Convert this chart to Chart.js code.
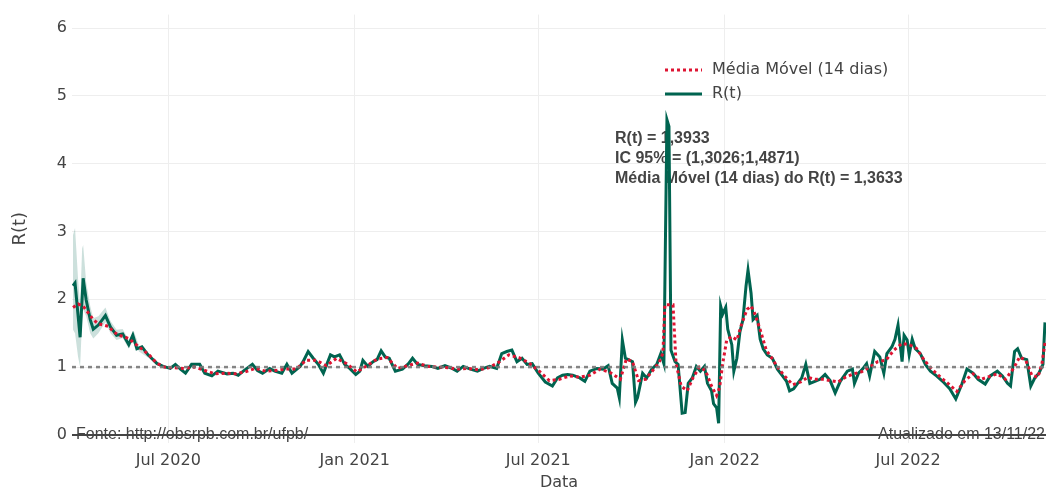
<!DOCTYPE html>
<html>
<head>
<meta charset="utf-8">
<script src="https://cdn.jsdelivr.net/npm/chart.js@4"></script>
<style>
  html, body { margin: 0; padding: 0; background: #fff; }
  #wrap { width: 1046px; height: 494px; }
</style>
</head>
<body>
<div id="wrap"><canvas id="rtChart" width="1046" height="494"></canvas></div>
<script>
// Série do R(t) - dias contados a partir do início da série
const startDate = '2020-03-29';

const rtDays = [0, 2, 7, 10, 13, 17, 20, 25, 32, 37, 43, 49, 55, 59, 63, 68, 74, 83, 89, 96, 101, 106, 111, 117, 125, 130,
  137, 143, 152, 158, 163, 168, 177, 182, 187, 194, 199, 206, 211, 216, 224, 227, 232, 237, 242, 247, 254, 258, 263, 268,
  273, 279, 283, 286, 291, 296, 300, 304, 308, 312, 318, 325, 331, 335, 340, 347, 354, 360, 367, 374, 379, 385, 392, 399,
  405, 411, 418, 423, 428, 433, 438, 443, 448, 453, 459, 466, 473, 478, 483, 488, 493, 500, 505, 510, 517, 523, 528, 532,
  537, 539, 542, 545, 548, 552, 555, 557, 562, 566, 571, 576, 580, 583, 586, 588, 590, 594, 597, 601, 604, 607, 611, 615,
  619, 623, 626, 630, 632, 635, 637, 639, 641, 644, 646, 650, 652, 655, 658, 661, 664, 666, 669, 671, 675, 678, 681, 685,
  690, 695, 700, 704, 707, 711, 715, 719, 723, 727, 732, 737, 742, 747, 752, 757, 764, 769, 771, 775, 779, 783, 786, 791,
  796, 800, 803, 808, 811, 814, 818, 820, 823, 825, 828, 831, 836, 841, 846, 852, 858, 865, 871, 877, 882, 888, 893, 900,
  905, 912, 917, 922, 925, 929, 932, 936, 941, 945, 949, 953, 957, 959];
const rtValues = [2.20, 2.24, 1.44, 2.31, 1.99, 1.70, 1.56, 1.62, 1.76, 1.59, 1.47, 1.49, 1.33, 1.47, 1.27, 1.30, 1.18, 1.05,
  1.01, 0.98, 1.04, 0.97, 0.91, 1.04, 1.04, 0.91, 0.87, 0.94, 0.90, 0.91, 0.88, 0.94, 1.04, 0.95, 0.91, 0.98, 0.94, 0.91,
  1.04, 0.91, 1.01, 1.08, 1.23, 1.13, 1.04, 0.91, 1.18, 1.15, 1.18, 1.04, 0.98, 0.89, 0.94, 1.10, 1.01, 1.08, 1.11, 1.24,
  1.15, 1.13, 0.94, 0.97, 1.05, 1.13, 1.04, 1.02, 1.01, 0.98, 1.02, 0.98, 0.94, 1.01, 0.97, 0.94, 0.98, 1.01, 0.98, 1.20,
  1.23, 1.25, 1.08, 1.13, 1.04, 1.05, 0.91, 0.78, 0.72, 0.84, 0.88, 0.89, 0.88, 0.84, 0.79, 0.94, 0.98, 0.97, 1.02, 0.76,
  0.69, 0.55, 1.40, 1.13, 1.11, 1.08, 0.48, 0.55, 0.91, 0.84, 0.97, 1.04, 1.20, 1.05, 4.65, 4.55, 1.25, 1.08, 1.04, 0.32,
  0.33, 0.76, 0.84, 1.01, 0.94, 1.01, 0.76, 0.65, 0.46, 0.40, 0.17, 1.90, 1.78, 1.88, 1.56, 1.33, 0.94, 1.13, 1.52, 1.70,
  2.19, 2.43, 2.09, 1.70, 1.76, 1.41, 1.27, 1.18, 1.13, 0.97, 0.87, 0.79, 0.65, 0.68, 0.76, 0.84, 1.04, 0.76, 0.79, 0.82,
  0.89, 0.80, 0.62, 0.79, 0.94, 0.97, 0.76, 0.91, 0.97, 1.05, 0.87, 1.23, 1.15, 0.91, 1.20, 1.30, 1.41, 1.62, 1.08, 1.47,
  1.40, 1.18, 1.41, 1.27, 1.20, 1.04, 0.94, 0.87, 0.79, 0.68, 0.53, 0.75, 0.97, 0.91, 0.82, 0.75, 0.87, 0.94, 0.87, 0.76,
  0.72, 1.23, 1.27, 1.13, 1.11, 0.72, 0.84, 0.91, 1.04, 1.66];

// Média móvel de 14 dias
const maDays = [0, 5, 10, 15, 20, 25, 30, 35, 40, 45, 50, 55, 60, 65, 70, 75, 80, 85, 90, 100, 110, 120, 130, 140, 150, 160,
  170, 180, 190, 200, 210, 220, 230, 240, 250, 260, 270, 280, 290, 300, 310, 320, 330, 340, 350, 360, 370, 380, 390, 400,
  410, 420, 430, 440, 450, 460, 470, 480, 490, 500, 510, 520, 530, 540, 546, 552, 558, 565, 572, 578, 582, 584, 592, 595,
  600, 606, 612, 618, 624, 630, 635, 638, 641, 645, 650, 655, 660, 665, 669, 673, 678, 684, 690, 696, 702, 710, 718, 725,
  732, 740, 748, 755, 762, 770, 778, 786, 794, 802, 810, 818, 825, 832, 840, 848, 856, 864, 872, 880, 888, 896, 904, 912,
  920, 928, 934, 940, 946, 952, 956, 959];
const maValues = [1.88, 1.93, 1.90, 1.80, 1.70, 1.64, 1.62, 1.60, 1.52, 1.47, 1.45, 1.42, 1.36, 1.30, 1.24, 1.18, 1.10, 1.04,
  1.00, 0.99, 0.98, 1.00, 0.95, 0.90, 0.91, 0.90, 0.93, 0.98, 0.94, 0.95, 0.97, 0.97, 1.10, 1.10, 1.02, 1.13, 1.05, 0.93,
  1.02, 1.12, 1.14, 0.98, 1.02, 1.06, 1.01, 1.00, 0.99, 0.97, 0.98, 0.96, 0.99, 1.07, 1.18, 1.14, 1.06, 0.94, 0.80, 0.82,
  0.87, 0.85, 0.88, 0.97, 0.92, 0.82, 1.12, 1.08, 0.80, 0.82, 0.95, 1.06, 1.20, 1.92, 1.92, 1.05, 0.72, 0.65, 0.85, 1.00,
  0.95, 0.72, 0.58, 0.70, 1.05, 1.40, 1.45, 1.40, 1.65, 1.85, 1.90, 1.78, 1.55, 1.25, 1.12, 0.98, 0.87, 0.74, 0.78, 0.85,
  0.82, 0.82, 0.80, 0.78, 0.85, 0.90, 0.93, 1.00, 1.08, 1.10, 1.25, 1.35, 1.33, 1.28, 1.10, 0.96, 0.85, 0.75, 0.64, 0.80,
  0.90, 0.82, 0.86, 0.90, 0.82, 0.98, 1.15, 1.10, 0.88, 0.85, 1.05, 1.36];

// Intervalo de confiança de 95% (visível apenas no início da série)
const ciDays = [0, 2, 5, 7, 9, 10, 13, 17, 20, 25, 32, 37, 43, 49, 55, 60, 65, 74];
const ciLow = [1.55, 1.50, 1.15, 1.00, 1.70, 1.85, 1.75, 1.50, 1.42, 1.50, 1.66, 1.50, 1.40, 1.43, 1.27, 1.41, 1.23, 1.14];
const ciHigh = [2.95, 3.05, 2.30, 1.90, 2.75, 2.80, 2.25, 1.90, 1.72, 1.75, 1.88, 1.68, 1.55, 1.56, 1.40, 1.53, 1.32, 1.22];

const tickDates = ['2020-07-01', '2021-01-01', '2021-07-01', '2022-01-01', '2022-07-01'];
const tickLabels = ['Jul 2020', 'Jan 2021', 'Jul 2021', 'Jan 2022', 'Jul 2022'];
const yTicks = [0, 1, 2, 3, 4, 5, 6];

const annotationLines = ['R(t) = 1,3933', 'IC 95% = (1,3026;1,4871)', 'Média Móvel (14 dias) do R(t) = 1,3633'];
const sourceText = 'Fonte: http://obsrpb.com.br/ufpb/';
const updatedText = 'Atualizado em 13/11/22';

const GREEN = 'rgb(0,100,80)';
const RED = 'rgb(222,20,50)';
const TEXT = '#444';

function dayOf(iso) {
  return Math.round((Date.parse(iso) - Date.parse(startDate)) / 86400000);
}
function toPoints(xs, ys) {
  return xs.map((x, i) => ({ x: x, y: ys[i] }));
}
const tickDays = tickDates.map(dayOf);

// Textos e legenda desenhados por cima/baixo das séries
const overlay = {
  id: 'overlay',
  beforeDatasetsDraw(chart) {
    const ctx = chart.ctx;
    ctx.save();
    ctx.font = 'bold 16px "Liberation Sans", Arial, sans-serif';
    ctx.fillStyle = TEXT;
    ctx.textBaseline = 'middle';
    ctx.textAlign = 'left';
    annotationLines.forEach((t, i) => ctx.fillText(t, 615, 139 + i * 20));
    ctx.restore();
  },
  afterDatasetsDraw(chart) {
    const ctx = chart.ctx;
    const area = chart.chartArea;
    const y1 = chart.scales.y.getPixelForValue(1);
    ctx.save();
    ctx.strokeStyle = 'rgba(120,120,120,0.9)';
    ctx.lineWidth = 2.5;
    ctx.setLineDash([4, 4]);
    ctx.beginPath();
    ctx.moveTo(area.left, y1);
    ctx.lineTo(area.right, y1);
    ctx.stroke();

    // legenda
    ctx.lineWidth = 3;
    ctx.strokeStyle = RED;
    ctx.setLineDash([3, 3]);
    ctx.beginPath();
    ctx.moveTo(665, 70);
    ctx.lineTo(702, 70);
    ctx.stroke();
    ctx.setLineDash([]);
    ctx.strokeStyle = GREEN;
    ctx.beginPath();
    ctx.moveTo(665, 94);
    ctx.lineTo(702, 94);
    ctx.stroke();
    ctx.font = '16px "DejaVu Sans", Verdana, sans-serif';
    ctx.fillStyle = TEXT;
    ctx.textBaseline = 'middle';
    ctx.fillText('Média Móvel (14 dias)', 712, 70);
    ctx.fillText('R(t)', 712, 94);
    ctx.restore();
  },
  afterDraw(chart) {
    const ctx = chart.ctx;
    const area = chart.chartArea;
    const y0 = chart.scales.y.getPixelForValue(0);
    ctx.save();
    ctx.fillStyle = TEXT;
    ctx.font = '16px "Liberation Sans", Arial, sans-serif';
    ctx.textBaseline = 'middle';
    ctx.textAlign = 'left';
    ctx.fillText(sourceText, 76, y0);
    ctx.textAlign = 'right';
    ctx.fillText(updatedText, 1045, y0);

    ctx.font = '16px "DejaVu Sans", Verdana, sans-serif';
    ctx.textAlign = 'center';
    ctx.fillText('Data', (area.left + area.right) / 2, 483);
    ctx.font = '18px "DejaVu Sans", Verdana, sans-serif';
    ctx.translate(20, (area.top + area.bottom) / 2);
    ctx.rotate(-Math.PI / 2);
    ctx.fillText('R(t)', 0, 0);
    ctx.restore();
  }
};

new Chart(document.getElementById('rtChart'), {
  type: 'line',
  data: {
    datasets: [
      {
        label: 'Média Móvel (14 dias)',
        data: toPoints(maDays, maValues),
        borderColor: RED,
        borderWidth: 3,
        borderDash: [3, 3],
        pointRadius: 0,
        tension: 0,
        fill: false,
        order: 0
      },
      {
        label: 'R(t)',
        data: toPoints(rtDays, rtValues),
        borderColor: GREEN,
        borderWidth: 3,
        pointRadius: 0,
        tension: 0,
        fill: false,
        order: 1
      },
      {
        label: 'IC superior',
        data: toPoints(ciDays, ciHigh),
        borderColor: 'rgba(0,100,80,0)',
        backgroundColor: 'rgba(0,100,80,0.2)',
        borderWidth: 0,
        pointRadius: 0,
        tension: 0,
        fill: '+1',
        order: 2
      },
      {
        label: 'IC inferior',
        data: toPoints(ciDays, ciLow),
        borderColor: 'rgba(0,100,80,0)',
        borderWidth: 0,
        pointRadius: 0,
        tension: 0,
        fill: false,
        order: 3
      }
    ]
  },
  options: {
    responsive: false,
    animation: false,
    layout: { padding: { top: 5, right: 0, left: 0, bottom: 0 } },
    plugins: {
      legend: { display: false },
      tooltip: { enabled: false }
    },
    scales: {
      x: {
        type: 'linear',
        min: -1,
        max: 960,
        afterBuildTicks: (scale) => { scale.ticks = tickDays.map(v => ({ value: v })); },
        afterFit: (scale) => { scale.height = 51; },
        ticks: {
          callback: (v) => tickLabels[tickDays.indexOf(v)] || '',
          color: TEXT,
          font: { family: '"DejaVu Sans", Verdana, sans-serif', size: 16 },
          padding: 8,
          maxRotation: 0,
          autoSkip: false
        },
        grid: { color: '#eee', lineWidth: 1, drawTicks: false },
        border: { display: false }
      },
      y: {
        type: 'linear',
        min: -0.12,
        max: 6.2,
        afterBuildTicks: (scale) => { scale.ticks = yTicks.map(v => ({ value: v })); },
        afterFit: (scale) => { scale.width = 72; },
        ticks: {
          color: TEXT,
          font: { family: '"DejaVu Sans", Verdana, sans-serif', size: 16 },
          padding: 5
        },
        grid: {
          color: (c) => c.tick && c.tick.value === 0 ? '#444' : '#eee',
          lineWidth: (c) => c.tick && c.tick.value === 0 ? 2 : 1,
          drawTicks: false
        },
        border: { display: false }
      }
    }
  },
  plugins: [overlay]
});
</script>
</body>
</html>
